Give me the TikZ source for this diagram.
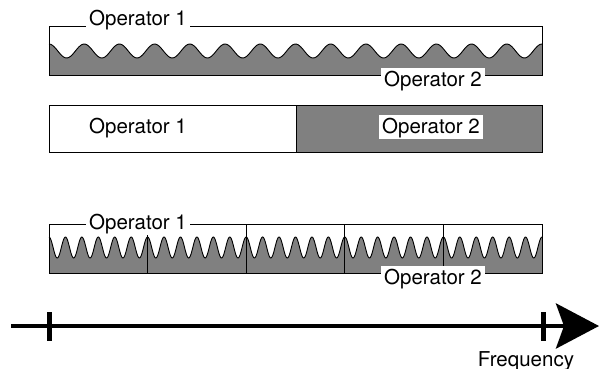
\documentclass[tikz,border=0pt]{standalone}
\usepackage{fontspec}
\setmainfont{TeX Gyre Heros}
\usetikzlibrary{arrows.meta}
\begin{document}
\begin{tikzpicture}[x=1pt,y=-1pt,
  frame/.style={draw=black, line width=1pt},
  wave/.style={draw=black, line width=0.9pt},
  txt/.style={inner sep=0pt, anchor=base, font=\fontsize{20.5}{24}\selectfont},
  lbl/.style={txt, fill=white, inner xsep=3pt, inner ysep=1pt,
              text height=17pt, text depth=5pt},
  axis/.style={line width=4.5pt, -{Stealth[length=43pt,width=45pt,inset=8pt]}},
  tickmark/.style={line width=5pt}]
\useasboundingbox (0,0) rectangle (600,369);

% --- gentle ripple: one operator's band shared with another (14 periods)
\fill[gray] (49,76) -- plot[domain=0:493,samples=300]
  ({49+\x},{51-7*cos(10.2231*\x)}) -- (542,76) -- cycle;
\draw[wave] plot[domain=0:493,samples=300] ({49+\x},{51-7*cos(10.2231*\x)});
\draw[frame] (49,27) rectangle (542,76);
\node[lbl] (opAone) at (138,26) {Operator 1};
\node[lbl] (opAtwo) at (433,86) {Operator 2};

% --- split band
\fill[gray] (296,105) rectangle (542,152);
\draw[frame] (49,105) rectangle (542,152);
\draw[frame] (296,105) -- (296,152);
\node[txt] (opBone) at (138,133) {Operator 1};
\node[lbl] (opBtwo) at (431,133) {Operator 2};

% --- channelised band with fast ripple (6 periods per channel)
\fill[gray] (49,273) -- plot[domain=0:493,samples=700]
  ({49+\x},{247.5-10.5*cos(21.9067*\x)}) -- (542,273) -- cycle;
\draw[wave] plot[domain=0:493,samples=700]
  ({49+\x},{247.5-10.5*cos(21.9067*\x)});
\draw[frame] (49,224) rectangle (542,273);
\foreach \d in {147.6,246.2,344.8,443.4}
  \draw[frame] (\d,224) -- (\d,273);
\node[lbl] (opCone) at (138,229) {Operator 1};
\node[lbl] (opCtwo) at (433,284) {Operator 2};

% --- frequency axis
\coordinate (axL) at (11,326);
\coordinate (axR) at (599,326);
\draw[axis] (axL) -- (axR);
\draw[tickmark] (49,312) -- (49,341);
\draw[tickmark] (543,312) -- (543,341);
\node[txt] (freq) at (526,366) {Frequency};
\end{tikzpicture}
\end{document}
